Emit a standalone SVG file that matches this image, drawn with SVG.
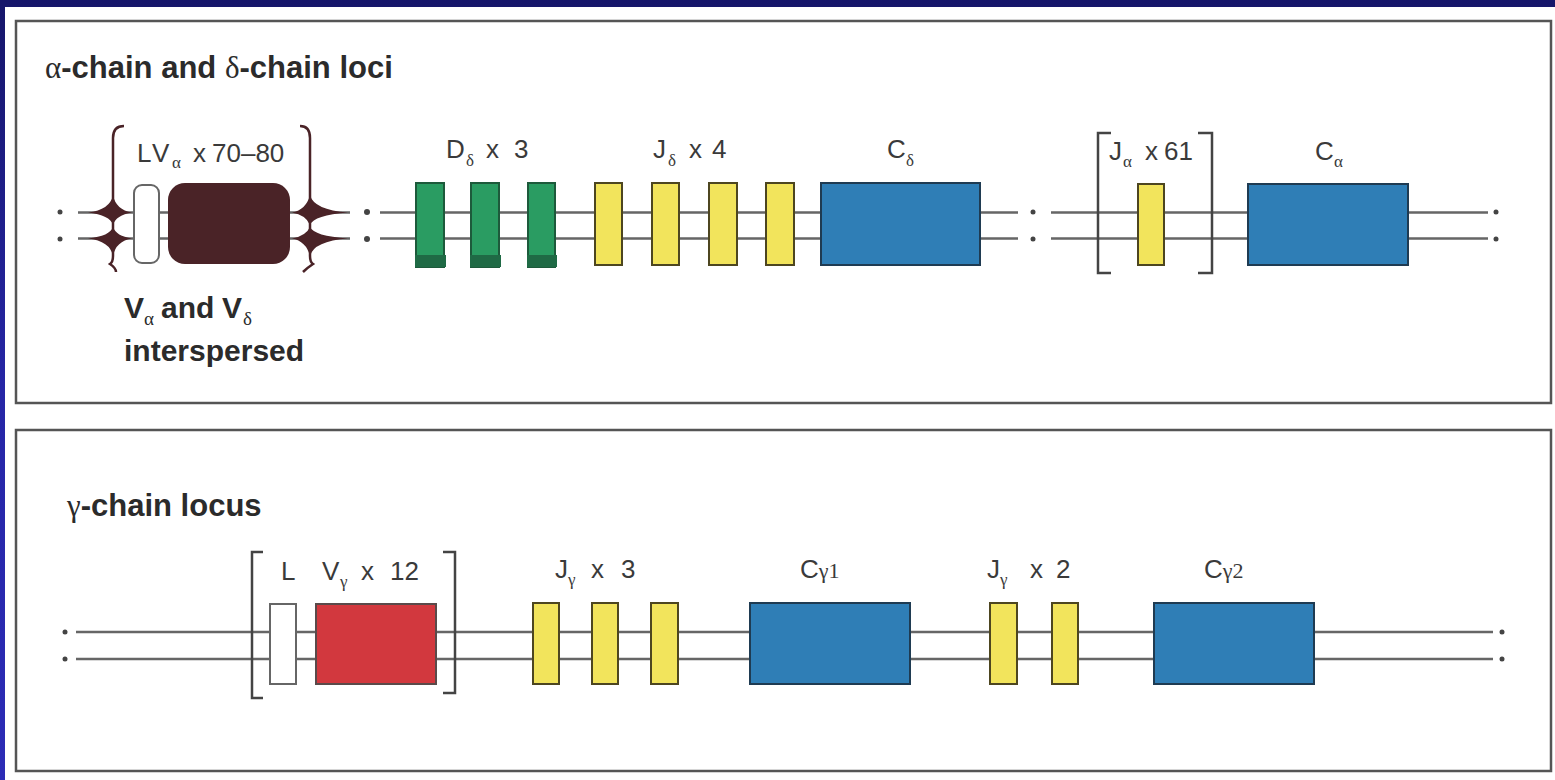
<svg xmlns="http://www.w3.org/2000/svg" width="1555" height="780" viewBox="0 0 1555 780">
<defs>
<linearGradient id="bg" x1="0" y1="0" x2="0" y2="1">
<stop offset="0" stop-color="#16166a"/>
<stop offset="0.5" stop-color="#2626a6"/>
<stop offset="1" stop-color="#2c2cb6"/>
</linearGradient>
<style>
.frame{fill:none;stroke:#555;stroke-width:2.5}
.dna{stroke:#666;stroke-width:2.5;fill:none}
.dot{fill:#444}
.title{font-family:"Liberation Sans",Arial,sans-serif;font-weight:bold;font-size:31px;fill:#2b2b2b}
.gk{font-family:"Liberation Serif","DejaVu Serif",serif;font-weight:normal}
.lab{font-family:"Liberation Sans",Arial,sans-serif;font-size:26px;fill:#3a3a3a}
.sub{font-family:"Liberation Serif","DejaVu Serif",serif;font-size:17px;fill:#3a3a3a}
.bold{font-family:"Liberation Sans",Arial,sans-serif;font-weight:bold;font-size:30px;fill:#2b2b2b}
.bsub{font-family:"Liberation Serif","DejaVu Serif",serif;font-size:19px;fill:#2b2b2b}
.green{fill:#2a9c62;stroke:#1d5a3b;stroke-width:2}
.gfoot{fill:#1f6a45}
.yel{fill:#f2e45c;stroke:#4d4620;stroke-width:2}
.blue{fill:#2f7eb6;stroke:#1f3b52;stroke-width:2}
.red{fill:#d2383e;stroke:#5a4a4a;stroke-width:2}
.wht{fill:#fff;stroke:#666;stroke-width:2}
.brown{fill:#4a2327}
.brk{fill:none;stroke:#444;stroke-width:2.5}
.brace{fill:none;stroke:#4a2327;stroke-width:2.5}
</style>
</defs>
<rect width="1555" height="780" fill="url(#bg)"/>
<rect x="5" y="7" width="1550" height="773" fill="#fff"/>
<rect class="frame" x="16" y="21" width="1535" height="382"/>
<rect class="frame" x="16" y="430" width="1535" height="341"/>

<text class="title" x="45" y="78"><tspan class="gk">α</tspan>-chain and <tspan class="gk">δ</tspan>-chain loci</text>
<text class="title" x="67" y="516"><tspan class="gk">γ</tspan>-chain locus</text>

<g id="connectors">
<path class="dna" d="M78 212.5H350M78 238.5H350M380 212.5H1018M380 238.5H1018M1051 212.5H1488M1051 238.5H1488"/>
<path class="dna" stroke="#555" d="M76 632H1493M76 659H1493"/>
<g class="dot">
<circle cx="60" cy="212" r="2.5"/><circle cx="60" cy="239" r="2.5"/>
<circle cx="367" cy="212" r="3"/><circle cx="367" cy="239" r="3"/>
<circle cx="1033" cy="212" r="2.5"/><circle cx="1033" cy="239" r="2.5"/>
<circle cx="1496" cy="212" r="2.5"/><circle cx="1496" cy="239" r="2.5"/>
<circle cx="65" cy="632" r="2.5"/><circle cx="65" cy="659" r="2.5"/>
<circle cx="1502" cy="632" r="2.5"/><circle cx="1502" cy="659" r="2.5"/>
</g>
</g>

<g id="node-LV-alpha">
<path class="brace" d="M124 126Q113 126 113 138V256Q113 262 110 264Q116 268 116 272"/>
<path class="brace" d="M300 126Q310 126 310 138V256Q310 262 313 264Q307 268 303 272"/>
<path class="brown" d="M88 212.5Q110 210 113 195Q116 210 132 212.5Q116 215 113 225Q110 215 88 212.5Z"/>
<path class="brown" d="M88 238.5Q110 236 113 227Q116 236 132 238.5Q116 241 113 256Q110 241 88 238.5Z"/>
<path class="brown" d="M292 212.5Q306 210 310 195Q314 210 348 212.5Q314 215 310 225Q306 215 292 212.5Z"/>
<path class="brown" d="M292 238.5Q306 236 310 227Q314 236 348 238.5Q314 241 310 256Q306 241 292 238.5Z"/>
<rect class="wht" x="134" y="185" width="25" height="78" rx="8"/>
<rect class="brown" x="168" y="183" width="122" height="81" rx="17"/>
<text class="lab" font-size="29" x="137" y="162">L</text>
<text class="lab" font-size="29" x="152" y="162">V</text>
<text class="sub" x="172" y="168">α</text>
<text class="lab" font-size="29" x="193" y="162">x</text>
<text class="lab" font-size="29" x="212" y="162">70–80</text>
<text class="bold" x="124" y="318">V</text>
<text class="bsub" x="144" y="325">α</text>
<text class="bold" x="161" y="318">and</text>
<text class="bold" x="222" y="318">V</text>
<text class="bsub" x="243" y="325">δ</text>
<text class="bold" x="124" y="361">interspersed</text>
</g>

<g id="node-D-delta">
<rect class="green" x="416" y="183" width="28" height="84"/>
<rect class="gfoot" x="415" y="255" width="31" height="12"/>
<rect class="green" x="471" y="183" width="28" height="84"/>
<rect class="gfoot" x="470" y="255" width="31" height="12"/>
<rect class="green" x="528" y="183" width="27" height="84"/>
<rect class="gfoot" x="527" y="255" width="30" height="12"/>
<text class="lab" x="446" y="158">D</text>
<text class="sub" x="466" y="166">δ</text>
<text class="lab" x="486" y="158">x</text>
<text class="lab" x="514" y="158">3</text>
</g>

<g id="node-J-delta">
<rect class="yel" x="595" y="183" width="27" height="82"/>
<rect class="yel" x="652" y="183" width="27" height="82"/>
<rect class="yel" x="709" y="183" width="28" height="82"/>
<rect class="yel" x="766" y="183" width="28" height="82"/>
<text class="lab" x="653" y="158">J</text>
<text class="sub" x="668" y="166">δ</text>
<text class="lab" x="689" y="158">x</text>
<text class="lab" x="712" y="158">4</text>
</g>

<g id="node-C-delta">
<rect class="blue" x="821" y="183" width="159" height="82"/>
<text class="lab" x="887" y="158">C</text>
<text class="sub" x="906" y="166">δ</text>
</g>

<g id="node-J-alpha">
<path class="brk" d="M1111 133H1098V273H1111M1198 133H1212V273H1198"/>
<rect class="yel" x="1138" y="184" width="26" height="81"/>
<text class="lab" x="1109" y="160">J</text>
<text class="sub" x="1123" y="167">α</text>
<text class="lab" x="1145" y="160">x</text>
<text class="lab" x="1164" y="160">61</text>
</g>

<g id="node-C-alpha">
<rect class="blue" x="1248" y="184" width="160" height="81"/>
<text class="lab" x="1315" y="160">C</text>
<text class="sub" x="1334" y="167">α</text>
</g>

<g id="node-LV-gamma">
<path class="brk" d="M263 552H252V698H263M443 552H455V693H443"/>
<rect class="wht" x="270" y="604" width="26" height="80"/>
<rect class="red" x="316" y="604" width="120" height="80"/>
<text class="lab" x="281" y="580">L</text>
<text class="lab" x="322" y="580">V</text>
<text class="sub" x="340" y="587">γ</text>
<text class="lab" x="361" y="580">x</text>
<text class="lab" x="390" y="580">12</text>
</g>

<g id="node-J-gamma3">
<rect class="yel" x="533" y="603" width="26" height="81"/>
<rect class="yel" x="592" y="603" width="26" height="81"/>
<rect class="yel" x="651" y="603" width="27" height="81"/>
<text class="lab" x="555" y="578">J</text>
<text class="sub" x="568" y="585">γ</text>
<text class="lab" x="591" y="578">x</text>
<text class="lab" x="621" y="578">3</text>
</g>

<g id="node-C-gamma1">
<rect class="blue" x="750" y="603" width="160" height="81"/>
<text class="lab" x="800" y="578">C<tspan class="gk" font-size="22">γ1</tspan></text>
</g>

<g id="node-J-gamma2">
<rect class="yel" x="990" y="603" width="27" height="81"/>
<rect class="yel" x="1052" y="603" width="26" height="81"/>
<text class="lab" x="987" y="578">J</text>
<text class="sub" x="1000" y="585">γ</text>
<text class="lab" x="1030" y="578">x</text>
<text class="lab" x="1056" y="578">2</text>
</g>

<g id="node-C-gamma2">
<rect class="blue" x="1154" y="603" width="160" height="81"/>
<text class="lab" x="1204" y="578">C<tspan class="gk" font-size="22">γ2</tspan></text>
</g>
</svg>
